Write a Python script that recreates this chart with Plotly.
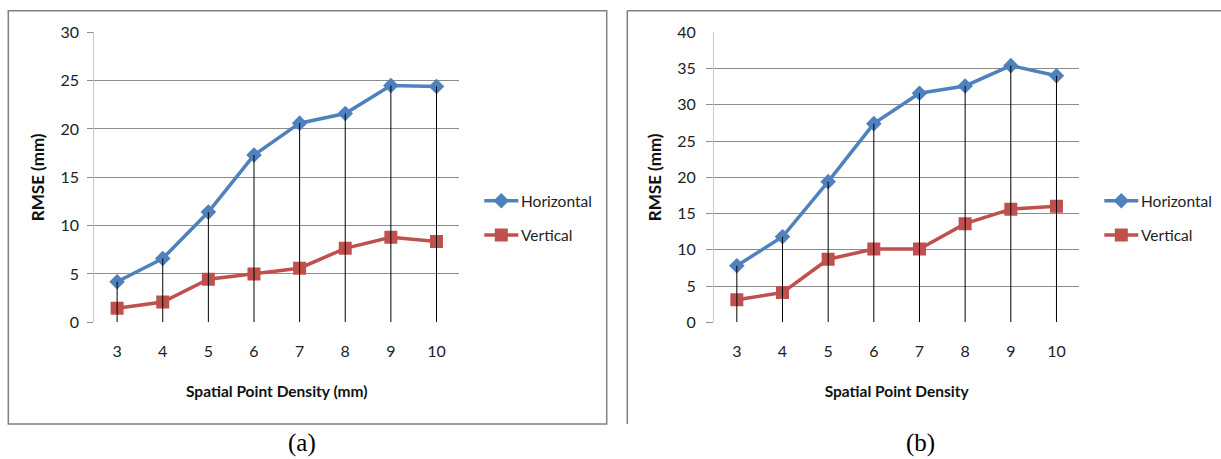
import plotly.graph_objects as go

categories = [3, 4, 5, 6, 7, 8, 9, 10]
tick_labels = ["3", "4", "5", "6", "7", "8", "9", "10"]
a_horizontal = [4.2, 6.6, 11.4, 17.3, 20.6, 21.6, 24.5, 24.4]
a_vertical = [1.45, 2.1, 4.45, 5.0, 5.6, 7.65, 8.8, 8.35]
b_horizontal = [7.8, 11.8, 19.4, 27.4, 31.6, 32.6, 35.4, 34.0]
b_vertical = [3.1, 4.1, 8.7, 10.1, 10.1, 13.6, 15.6, 16.0]
a_yticks = [0, 5, 10, 15, 20, 25, 30]
b_yticks = [0, 5, 10, 15, 20, 25, 30, 35, 40]
b_grid = [0, 5, 10, 15, 20, 25, 30, 35]

W, H = 1221, 459
BLUE = "#4F81BD"
RED = "#C0504D"
FONT = "Lato, sans-serif"
GRID = "#8c8c8c"


def px(x):
    return x / W


def py(y):
    return 1 - y / H


def drop(xs, ys):
    dx, dy = [], []
    for x, y in zip(xs, ys):
        dx += [x, x, None]
        dy += [0, y, None]
    return dx, dy


fig = go.Figure()
panels = [
    ("x", "y", a_horizontal, a_vertical),
    ("x2", "y2", b_horizontal, b_vertical),
]
for xa, ya, hv, vv in panels:
    fig.add_trace(go.Scatter(
        x=categories, y=hv, xaxis=xa, yaxis=ya, name="Horizontal",
        mode="lines+markers", line=dict(color=BLUE, width=3.5),
        marker=dict(symbol="diamond", size=12, color=BLUE),
        showlegend=False))
    fig.add_trace(go.Scatter(
        x=categories, y=vv, xaxis=xa, yaxis=ya, name="Vertical",
        mode="lines+markers", line=dict(color=RED, width=3.5),
        marker=dict(symbol="square", size=13, color=RED),
        showlegend=False))
    dx, dy = drop(categories, hv)
    fig.add_trace(go.Scatter(
        x=dx, y=dy, xaxis=xa, yaxis=ya, mode="lines",
        line=dict(color="black", width=1), showlegend=False,
        hoverinfo="skip"))

ydom = [py(322.3), py(32.3)]
tick_font = dict(family=FONT, size=16, color="#222")
xtitle_font = dict(family=FONT, size=15.5, color="#111")
ytitle_font = dict(family=FONT, size=17, color="#111")
common_x = dict(range=[2.5, 10.5], tickvals=categories, ticktext=tick_labels,
                showgrid=False, zeroline=False, showline=False, ticks="",
                automargin=False, tickfont=tick_font, ticklabelstandoff=18)
common_y = dict(zeroline=False, showline=True, linecolor="#c8c8c8",
                linewidth=1, automargin=False, tickfont=tick_font)

fig.update_layout(
    width=W, height=H,
    margin=dict(l=0, r=0, t=0, b=0, pad=0, autoexpand=False),
    paper_bgcolor="white", plot_bgcolor="rgba(0,0,0,0)",
    showlegend=False,
    xaxis=dict(domain=[px(94.3), px(459.3)], anchor="y", **common_x,
               title=dict(text="<b>Spatial Point Density (mm)</b>",
                          font=xtitle_font, standoff=26)),
    yaxis=dict(domain=ydom, anchor="x", range=[0, 30], tickvals=a_yticks,
               showgrid=True, gridcolor=GRID, gridwidth=1,
               ticks="outside", ticklen=6, tickcolor=GRID,
               ticklabelstandoff=5, **common_y,
               title=dict(text="<b>RMSE (mm)</b>", font=ytitle_font,
                          standoff=11)),
    xaxis2=dict(domain=[px(714), px(1079.3)], anchor="y2", **common_x,
                title=dict(text="<b>Spatial Point Density</b>",
                           font=xtitle_font, standoff=26)),
    yaxis2=dict(domain=ydom, anchor="x2", range=[0, 40], tickvals=b_yticks,
                showgrid=False, ticks="", ticklabelstandoff=14, **common_y,
                title=dict(text="<b>RMSE (mm)</b>", font=ytitle_font,
                           standoff=11)),
    yaxis4=dict(overlaying="y2", anchor="x2", side="left", range=[0, 40],
                tickvals=b_grid, showticklabels=False, showgrid=True,
                gridcolor=GRID, gridwidth=1, ticks="outside", ticklen=7,
                tickcolor=GRID, zeroline=False, showline=False,
                automargin=False),
    xaxis3=dict(domain=[0, 1], range=[0, 1], visible=False, anchor="y3",
                automargin=False),
    yaxis3=dict(domain=[0, 1], range=[0, 1], visible=False, anchor="x3",
                automargin=False),
)

# invisible trace so the grid overlay axis is rendered
fig.add_trace(go.Scatter(x=[None], y=[None], xaxis="x2", yaxis="y4",
                         showlegend=False, hoverinfo="skip"))

shapes = [
    dict(type="rect", xref="paper", yref="paper",
         x0=px(8.3), x1=px(606.7), y0=py(424), y1=py(10.7),
         line=dict(color="#808080", width=1.5), fillcolor="rgba(0,0,0,0)"),
    dict(type="line", xref="paper", yref="paper",
         x0=px(627.3), x1=1, y0=py(10.7), y1=py(10.7),
         line=dict(color="#808080", width=1.5)),
    dict(type="line", xref="paper", yref="paper",
         x0=px(627.3), x1=px(627.3), y0=py(424), y1=py(10.7),
         line=dict(color="#808080", width=1.5)),
]

legend_y = [200.7, 235]
names = ["Horizontal", "Vertical"]
colors = [BLUE, RED]
symbols = ["diamond", "square"]
sizes = [12, 13]
for lx in (484.3, 1104.3):
    for name, c, ly in zip(names, colors, legend_y):
        shapes.append(dict(type="line", xref="paper", yref="paper",
                           x0=px(lx), x1=px(lx + 34), y0=py(ly), y1=py(ly),
                           line=dict(color=c, width=3.5)))
        fig.add_annotation(xref="paper", yref="paper", x=px(lx + 35), y=py(ly),
                           text=name, showarrow=False, xanchor="left",
                           yanchor="middle",
                           font=dict(family=FONT, size=15.5, color="#222"))
    for c, sym, sz, ly in zip(colors, symbols, sizes, legend_y):
        fig.add_trace(go.Scatter(
            x=[px(lx + 17)], y=[py(ly)], xaxis="x3", yaxis="y3",
            mode="markers", marker=dict(symbol=sym, size=sz, color=c),
            showlegend=False, hoverinfo="skip"))
fig.update_layout(shapes=shapes)

serif = dict(family="Liberation Serif, Times New Roman, serif", size=25,
             color="black")
fig.add_annotation(xref="paper", yref="paper", x=px(301.7), y=py(443),
                   xanchor="center", yanchor="middle", text="(a)",
                   showarrow=False, font=serif)
fig.add_annotation(xref="paper", yref="paper", x=px(920.7), y=py(443),
                   xanchor="center", yanchor="middle", text="(b)",
                   showarrow=False, font=serif)

fig.write_html("out.html")
